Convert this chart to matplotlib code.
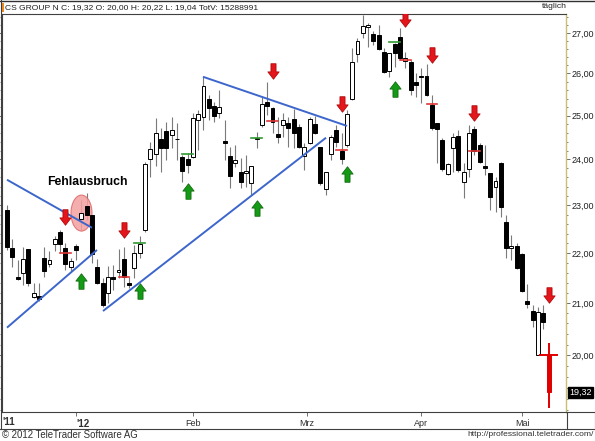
import matplotlib
matplotlib.use("Agg")
import matplotlib.pyplot as plt
import numpy as np
from matplotlib.patches import Ellipse, Rectangle
from matplotlib.path import Path
from matplotlib.transforms import ScaledTranslation
from matplotlib.ticker import FixedLocator, NullFormatter, FuncFormatter
from matplotlib.lines import Line2D

# ---------------- data (daily OHLC, CS GROUP N) ----------------
opens = [22.90, 22.10, 21.52, 21.59, 22.08, 21.11, 21.13, 21.89, 21.77, 22.18,
         22.43, 22.10, 21.71, 22.14, 22.71, 22.98, 22.79, 21.71, 21.39, 21.19,
         21.51, 21.61, 21.87, 21.39, 21.69, 21.99, 22.48, 24.01, 24.12, 24.47,
         24.65, 24.56, 24.47, 24.05, 24.01, 24.05, 24.90, 24.97, 25.39, 25.23,
         25.06, 24.42, 24.08, 23.92, 23.72, 23.70, 23.48, 24.47, 24.79, 25.32,
         25.18, 24.58, 24.79, 24.83, 24.92, 24.74, 24.08, 24.37, 24.81, 24.28,
         23.35, 24.12, 24.67, 24.19, 24.33, 25.39, 26.48, 27.00, 27.15, 26.98,
         26.95, 26.53, 26.06, 26.73, 26.90, 26.31, 26.28, 25.80, 25.94, 25.94,
         25.25, 24.83, 24.44, 23.68, 24.26, 24.53, 23.50, 23.79, 24.69, 24.33,
         23.86, 23.70, 23.39, 23.92, 22.64, 22.10, 22.14, 21.97, 21.03, 20.84,
         20.01, 20.80, 20.00]
highs = [23.00, 22.29, 21.85, 22.12, 22.08, 21.39, 21.39, 22.12, 22.04, 22.35,
         22.48, 22.20, 21.89, 22.18, 23.11, 23.26, 22.80, 21.87, 21.49, 21.73,
         21.75, 22.08, 22.12, 21.51, 22.16, 22.35, 23.94, 24.40, 24.95, 24.72,
         24.85, 24.97, 24.83, 24.10, 24.15, 25.06, 25.13, 25.92, 25.49, 25.32,
         25.61, 24.90, 24.28, 24.33, 24.03, 24.10, 23.86, 24.63, 25.44, 25.80,
         25.20, 24.97, 25.06, 24.97, 25.15, 24.81, 24.37, 24.97, 24.99, 24.28,
         23.72, 24.56, 24.78, 24.60, 25.13, 26.63, 26.88, 27.45, 27.26, 27.05,
         27.20, 26.63, 26.51, 26.75, 27.13, 26.53, 26.33, 26.01, 26.14, 26.23,
         25.49, 24.83, 24.49, 23.92, 24.60, 24.67, 23.92, 24.79, 24.76, 24.37,
         24.33, 23.70, 23.61, 23.94, 22.79, 22.37, 22.20, 21.99, 21.37, 20.96,
         20.92, 20.96, 20.22]
lows = [22.06, 21.71, 21.46, 21.35, 21.33, 21.09, 21.03, 21.51, 21.71, 22.04,
        21.99, 21.65, 21.61, 21.85, 22.48, 22.69, 21.79, 21.37, 20.92, 20.99,
        21.25, 21.49, 21.31, 21.29, 21.49, 21.89, 22.43, 23.61, 23.86, 23.72,
        23.99, 24.26, 23.99, 23.50, 23.70, 24.03, 24.21, 24.67, 24.90, 24.85,
        24.95, 23.99, 23.37, 23.83, 23.37, 23.39, 23.22, 24.26, 24.74, 25.01,
        24.60, 24.37, 24.51, 24.28, 24.26, 24.26, 23.77, 24.35, 24.58, 23.44,
        23.22, 23.99, 24.28, 23.90, 24.28, 25.37, 26.28, 26.88, 26.65, 26.70,
        26.58, 26.01, 25.92, 26.16, 26.33, 26.14, 25.49, 25.44, 25.30, 25.47,
        24.67, 23.92, 23.75, 23.66, 23.72, 23.72, 23.15, 23.61, 24.10, 23.92,
        23.66, 22.90, 22.85, 22.75, 21.89, 21.85, 21.67, 21.21, 20.90, 20.53,
        20.00, 20.49, 19.04]
closes = [22.12, 21.91, 21.48, 21.87, 21.39, 21.19, 21.07, 21.63, 21.85, 22.29,
          22.18, 21.77, 21.83, 22.06, 22.83, 22.79, 21.97, 21.39, 20.96, 21.51,
          21.47, 21.65, 21.51, 21.35, 21.99, 22.18, 23.90, 24.24, 24.60, 24.26,
          24.26, 24.67, 24.45, 23.75, 23.88, 24.95, 25.04, 25.70, 25.18, 24.99,
          25.20, 24.37, 23.64, 23.99, 23.50, 23.75, 23.86, 24.49, 25.27, 25.23,
          24.85, 24.51, 24.90, 24.72, 24.60, 24.28, 24.28, 24.92, 24.60, 23.48,
          23.72, 24.51, 24.40, 24.01, 25.04, 26.28, 26.80, 27.18, 27.20, 26.80,
          26.60, 26.04, 26.51, 26.51, 26.38, 26.38, 25.61, 25.73, 25.92, 25.49,
          24.72, 24.69, 23.79, 23.90, 24.51, 23.77, 23.72, 24.60, 24.19, 23.95,
          23.81, 23.17, 23.53, 22.96, 22.10, 22.14, 21.69, 21.23, 20.97, 20.67,
          20.82, 20.63, 19.32]

# signals (candle index, price)
red_arrow_idx = [11, 22, 50, 63, 75, 80, 88, 102]
red_arrow_price = [22.74, 22.47, 26.06, 25.26, 27.35, 26.44, 25.07, 21.16]
green_arrow_idx = [14, 25, 34, 47, 64, 73]
green_arrow_price = [21.43, 21.23, 23.31, 22.93, 23.68, 25.63]
red_mark_idx = [11, 22, 50, 63, 75, 80, 88]
red_mark_price = [21.99, 21.51, 24.88, 24.21, 26.33, 25.27, 24.19]
green_mark_idx = [25, 34, 47, 73]
green_mark_price = [22.20, 24.12, 24.49, 26.78]

# trend lines: (idx0, price0, idx1, price1)
trend_lines = [(0.0, 23.55, 16.0, 22.52),
               (0.0, 20.52, 16.95, 22.06),
               (18.08, 20.84, 60.08, 24.49),
               (36.9, 25.92, 64.03, 24.76)]

breakout_center = (14.03, 22.83)
breakout_label = "Fehlausbruch"
breakout_label_pos = (15.07, 23.50)

price_ticks = [20, 21, 22, 23, 24, 25, 26, 27]
month_ticks = [13.0, 35.1, 56.5, 78.0, 97.0]
month_labels = ["'12", "Feb", "Mrz", "Apr", "Mai"]
start_label = "'11"
last_close = 19.32
header = "CS GROUP N C: 19,32 O: 20,00 H: 20,22 L: 19,04 TotV: 15288991"

# ---------------- figure ----------------
W, H = 595, 441
fig = plt.figure(figsize=(W / 100, H / 100), dpi=100)
fig.patch.set_facecolor('white')
FONT = 'Liberation Sans'

PL, PR, PT, PB = 2, 566, 14, 412
ax = fig.add_axes([PL / W, 1 - PB / H, (PR - PL) / W, (PB - PT) / H])
ax.set_yscale('log')
ax.set_ylim(18.97, 27.48)
ax.set_xlim(-0.94, 105.27)
ax.set_facecolor('white')

n = len(opens)
idx = np.arange(n)
o = np.array(opens); h = np.array(highs); l = np.array(lows); c = np.array(closes)

wick_col = ['#e00000' if i == n - 1 else '#7a7a7a' for i in idx]
wick_lw = [1.4 if i == n - 1 else 0.8 for i in idx]
ax.vlines(idx, l, h, colors=wick_col, linewidths=wick_lw, zorder=2)

bottoms = np.minimum(o, c)
heights = np.maximum(np.abs(c - o), 0.015)
face = []
edge = []
for i in idx:
    if i == n - 1:
        face.append('#e00000'); edge.append('#e00000')
    elif c[i] >= o[i]:
        face.append('white'); edge.append('black')
    else:
        face.append('black'); edge.append('black')
ax.bar(idx, heights, bottom=bottoms, width=0.74, color=face, edgecolor=edge,
       linewidth=0.7, zorder=3)

# trend lines
for (x0, p0, x1, p1) in trend_lines:
    ax.plot([x0, x1], [p0, p1], color='#3d66cc', lw=1.4, zorder=4,
            solid_capstyle='butt')

# ellipse highlighting failed breakout
tr = fig.dpi_scale_trans + ScaledTranslation(breakout_center[0], breakout_center[1], ax.transData)
ax.add_patch(Ellipse((0, 0), 0.21, 0.36, transform=tr, facecolor='#f4a0a0',
                     edgecolor='#e06868', lw=0.8, alpha=0.85, zorder=2.5))
ax.text(breakout_label_pos[0], breakout_label_pos[1], breakout_label, ha='center',
        va='center', fontsize=8.8, fontweight='bold', family=FONT, zorder=6)

# markers
for i, p in zip(red_mark_idx, red_mark_price):
    ax.plot([i - 1.0, i + 1.0], [p, p], color='#e03535', lw=1.2, zorder=5)
for i, p in zip(green_mark_idx, green_mark_price):
    ax.plot([i - 1.0, i + 1.0], [p, p], color='#2f9a2f', lw=1.2, zorder=5)
ax.plot([n - 1 - 1.6, n - 1 + 1.6], [opens[-1], opens[-1]], color='#e00000', lw=1.4, zorder=5)

# arrows
dv = [(-0.33, 1), (0.33, 1), (0.33, -0.05), (0.73, -0.05), (0, -1),
      (-0.73, -0.05), (-0.33, -0.05), (-0.33, 1)]
codes = [Path.MOVETO] + [Path.LINETO] * 6 + [Path.CLOSEPOLY]
down = Path(dv, codes)
up = Path([(x, -y) for x, y in dv], codes)
ax.plot(red_arrow_idx, red_arrow_price, ls='none', marker=down, ms=11.2,
        mfc='#e3161b', mec='#a80000', mew=0.5, zorder=6)
ax.plot(green_arrow_idx, green_arrow_price, ls='none', marker=up, ms=11.2,
        mfc='#159a15', mec='#0a600a', mew=0.5, zorder=6)

# axes styling
ax.yaxis.set_major_locator(FixedLocator(price_ticks))
ax.yaxis.set_minor_locator(FixedLocator(np.arange(19.0, 27.6, 0.2)))
ax.yaxis.set_major_formatter(FuncFormatter(lambda v, p: f"{v:.2f}".replace('.', ',')))
ax.yaxis.set_minor_formatter(NullFormatter())
ax.tick_params(axis='y', which='both', left=True, right=True, labelleft=False,
               labelright=True, direction='out', color='#707070')
ax.tick_params(axis='y', which='major', length=3, width=0.7, pad=1, labelsize=6.5,
               labelcolor='#202020')
ax.tick_params(axis='y', which='minor', length=1.5, width=0.6)
for lab in ax.get_yticklabels():
    lab.set_family(FONT)

ax.set_xticks(month_ticks)
ax.set_xticklabels(month_labels, fontsize=6.5, family=FONT, color='#303030')
ax.get_xticklabels()[0].set_fontweight('bold')
ax.get_xticklabels()[0].set_fontsize(7)
ax.get_xticklabels()[0].set_horizontalalignment('left')
ax.tick_params(axis='x', direction='out', length=3, width=0.7, pad=2, color='#707070')
ax.text(-0.94, -0.012, start_label, transform=ax.get_xaxis_transform(), ha='left',
        va='top', fontsize=7, fontweight='bold', family=FONT, color='#303030')

for s in ['top', 'bottom', 'left']:
    ax.spines[s].set_color('#404040')
    ax.spines[s].set_linewidth(0.8)
ax.spines['right'].set_color('#c8c070')
ax.spines['right'].set_linestyle((0, (1, 1)))
ax.spines['right'].set_linewidth(1.0)

# last price box
ax.text(1.006, last_close, f"{last_close:.2f}".replace('.', ','), transform=ax.get_yaxis_transform(),
        ha='left', va='center', fontsize=6.5, family=FONT, color='white',
        bbox=dict(boxstyle='square,pad=0.15', fc='black', ec='black'), zorder=7)

# frame lines of the label band and header
def hline(py, x0=0, x1=W, col='#404040', lw=0.8):
    fig.add_artist(Line2D([x0 / W, x1 / W], [1 - py / H, 1 - py / H], color=col, lw=lw))

def vline(px, y0, y1, col='#404040', lw=0.8):
    fig.add_artist(Line2D([px / W, px / W], [1 - y0 / H, 1 - y1 / H], color=col, lw=lw))

hline(0.5, col='#303030', lw=1.0)
hline(428.5)
vline(566.5, 412, 428.5)
vline(594.5, 412, 428.5)
vline(0.5, 0, 428.5)
hline(412, x0=566, x1=595)

fig.add_artist(Rectangle((1 / W, 1 - 12 / H), 3 / W, 9 / H, transform=fig.transFigure,
                         facecolor='#f08a20', edgecolor='none'))
fig.text(5 / W, 1 - 8 / H, header, ha='left', va='center', fontsize=6.1,
         family=FONT, color='#202020')
fig.text(567 / W, 1 - 7 / H, "täglich", ha='right', va='center', fontsize=6.1,
         family=FONT, color='#202020')
fig.text(2 / W, 1 - 435 / H, "© 2012 TeleTrader Software AG", ha='left', va='center',
         fontsize=6.9, family=FONT, color='#303030')
fig.text(594 / W, 1 - 435 / H, "http://professional.teletrader.com/", ha='right',
         va='center', fontsize=6.1, family=FONT, color='#303030')

fig.savefig('out.png', dpi=100, facecolor='white')
